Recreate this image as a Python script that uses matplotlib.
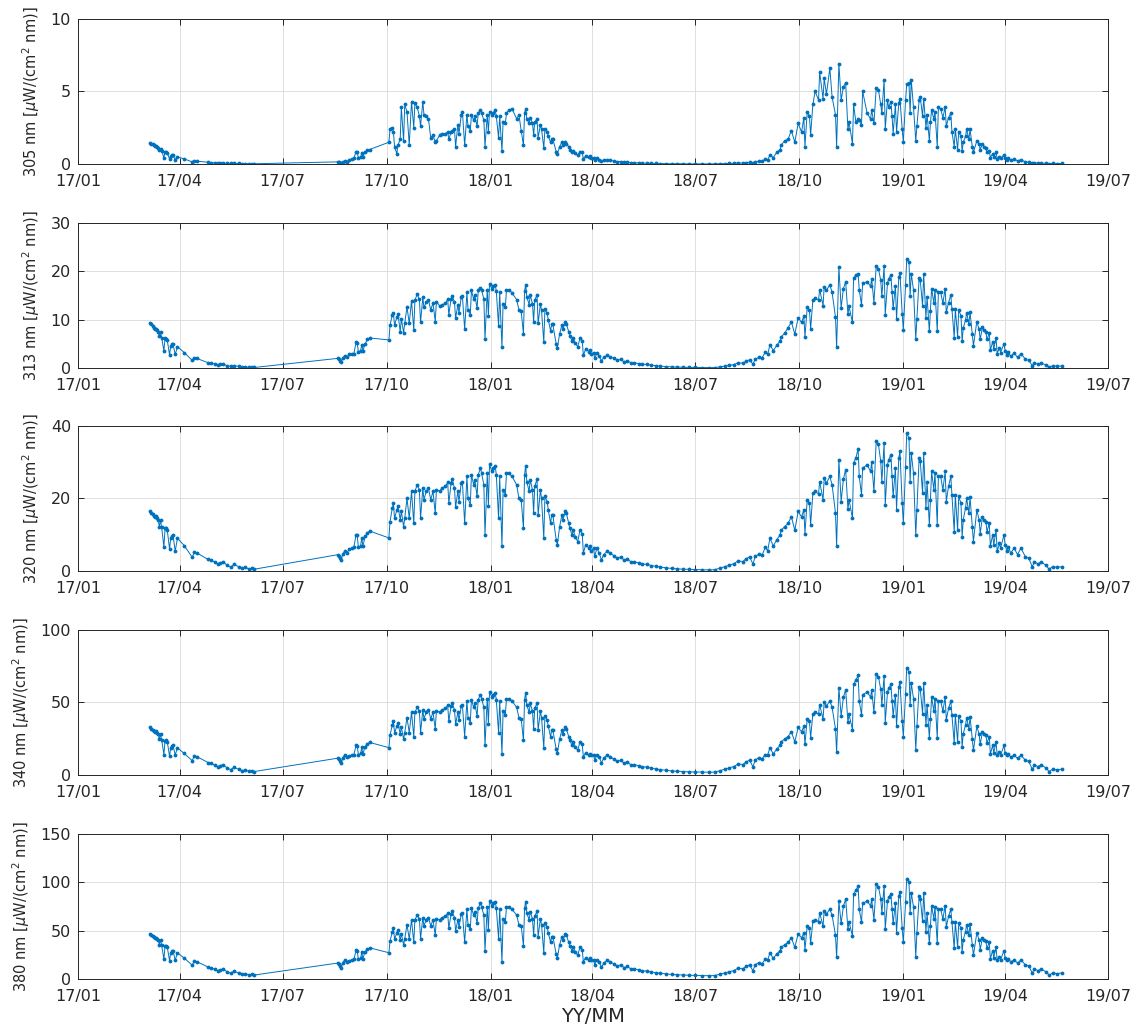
import numpy as np
import pandas as pd
import matplotlib
matplotlib.use('Agg')
import matplotlib.pyplot as plt
import matplotlib.dates as mdates

# sample day, counted from 2017-01-01
days = [
    64, 65, 66, 67, 68, 69, 70, 71, 72, 73,
    74, 76, 77, 78, 79, 81, 82, 83, 84, 86,
    88, 94, 101, 103, 105, 115, 118, 121, 124, 126,
    128, 132, 135, 138, 142, 145, 148, 151, 154, 156,
    230, 231, 232, 233, 234, 236, 238, 240, 242, 244,
    246, 247, 248, 250, 251, 252, 254, 256, 258, 275,
    276, 278, 279, 280, 282, 283, 285, 286, 288, 289,
    291, 293, 295, 297, 298, 300, 302, 303, 305, 306,
    308, 310, 312, 314, 316, 317, 320, 322, 325, 327,
    328, 330, 331, 333, 334, 336, 337, 339, 340, 342,
    344, 345, 347, 348, 350, 351, 353, 354, 356, 357,
    359, 360, 362, 363, 364, 366, 367, 369, 370, 372,
    373, 375, 376, 378, 379, 381, 384, 388, 390, 392,
    394, 395, 396, 397, 399, 400, 402, 403, 404, 406,
    407, 409, 410, 412, 413, 415, 416, 418, 419, 420,
    423, 424, 426, 428, 429, 431, 432, 434, 435, 437,
    438, 440, 442, 444, 446, 447, 449, 452, 453, 454,
    456, 457, 459, 461, 463, 465, 468, 471, 474, 477,
    480, 483, 486, 489, 492, 496, 499, 503, 507, 511,
    515, 520, 525, 530, 535, 540, 546, 552, 558, 563,
    568, 572, 576, 580, 584, 588, 591, 594, 597, 599,
    602, 605, 608, 610, 612, 615, 618, 621, 622, 625,
    628, 631, 634, 637, 640, 642, 643, 645, 647, 648,
    650, 652, 655, 656, 659, 660, 662, 665, 667, 670,
    671, 673, 675, 677, 679, 681, 682, 685, 686, 688,
    690, 691, 693, 694, 698, 701, 702, 704, 706, 708,
    710, 711, 713, 714, 716, 717, 719, 720, 721, 723,
    724, 726, 727, 729, 730, 732, 733, 735, 736, 737,
    739, 741, 742, 744, 745, 747, 748, 750, 751, 753,
    754, 755, 757, 758, 760, 761, 763, 765, 767, 768,
    770, 772, 773, 775, 776, 778, 779, 781, 782, 783,
    785, 786, 788, 789, 791, 792, 795, 797, 798, 800,
    801, 803, 804, 806, 807, 809, 810, 812, 813, 815,
    816, 819, 820, 822, 823, 825, 828, 831, 834, 838,
    841, 844, 846, 849, 852, 856, 859, 862, 866, 870,
]

uv305 = [
    1.45, 1.4, 1.35, 1.3, 1.25, 1.25, 1.2, 1.1, 0.95, 1.05,
    0.9, 0.45, 0.85, 0.8, 0.75, 0.35, 0.55, 0.6, 0.6, 0.3,
    0.5, 0.35, 0.15, 0.2, 0.2, 0.12, 0.1, 0.08, 0.07, 0.07,
    0.07, 0.05, 0.04, 0.05, 0.04, 0.03, 0.03, 0.02, 0.02, 0.02,
    0.15, 0.13, 0.1, 0.08, 0.15, 0.2, 0.17, 0.3, 0.35, 0.4,
    0.85, 0.8, 0.45, 0.5, 0.75, 0.5, 0.85, 0.95, 1.0, 1.5,
    2.4, 2.5, 2.2, 1.2, 0.7, 1.3, 1.7, 3.9, 1.6, 4.1,
    3.6, 1.3, 4.3, 2.5, 4.2, 3.9, 3.3, 2.6, 4.3, 3.4,
    3.3, 3.1, 1.8, 2.0, 1.5, 1.6, 2.0, 2.1, 2.1, 2.2,
    1.7, 2.2, 2.3, 2.4, 1.2, 2.7, 2.1, 3.4, 3.6, 1.3,
    3.4, 2.6, 2.3, 3.4, 3.0, 3.3, 2.6, 3.5, 3.7, 3.5,
    3.0, 1.2, 3.4, 2.2, 3.6, 3.4, 3.5, 3.7, 3.3, 1.8,
    3.3, 0.9, 2.9, 2.8, 3.5, 3.7, 3.8, 3.1, 3.4, 2.3,
    1.3, 3.5, 3.8, 3.1, 2.8, 3.2, 2.8, 2.0, 2.9, 3.1,
    1.8, 2.7, 2.4, 1.1, 2.4, 2.2, 1.9, 1.5, 1.7, 1.7,
    0.85, 0.7, 1.2, 1.5, 1.3, 1.5, 1.4, 1.2, 1.0, 0.85,
    0.9, 0.75, 0.6, 0.85, 0.8, 0.35, 0.55, 0.5, 0.55, 0.4,
    0.45, 0.25, 0.4, 0.3, 0.18, 0.25, 0.3, 0.25, 0.2, 0.17,
    0.17, 0.12, 0.14, 0.1, 0.1, 0.08, 0.06, 0.06, 0.05, 0.04,
    0.03, 0.03, 0.02, 0.02, 0.02, 0.01, 0.01, 0.01, 0.01, 0.01,
    0.02, 0.03, 0.04, 0.05, 0.08, 0.07, 0.1, 0.13, 0.05, 0.15,
    0.2, 0.18, 0.35, 0.3, 0.6, 0.45, 0.8, 1.0, 1.3, 1.6,
    1.7, 2.3, 1.5, 2.8, 2.2, 3.2, 1.2, 3.6, 3.3, 2.0,
    4.1, 5.0, 4.4, 6.3, 4.5, 5.9, 4.8, 6.6, 4.6, 3.4,
    1.2, 6.9, 4.4, 5.3, 5.6, 2.4, 2.9, 1.4, 4.1, 2.9,
    3.1, 3.0, 2.7, 5.0, 3.5, 3.1, 3.7, 2.8, 5.2, 5.1,
    4.1, 3.5, 5.8, 2.4, 4.4, 3.9, 4.3, 3.3, 2.1, 4.1,
    2.2, 4.2, 4.5, 2.4, 1.5, 4.4, 5.5, 5.6, 3.5, 5.8,
    3.9, 1.6, 2.6, 4.4, 4.6, 3.3, 4.5, 2.5, 3.4, 1.6,
    2.9, 3.7, 3.1, 3.6, 1.2, 3.9, 3.8, 3.2, 3.9, 2.6,
    3.2, 3.5, 2.2, 1.2, 2.4, 1.0, 2.2, 1.9, 0.9, 1.5,
    1.9, 2.4, 1.7, 2.4, 1.2, 0.8, 1.6, 1.4, 1.0, 1.4,
    1.2, 1.1, 0.8, 0.9, 0.45, 0.7, 0.5, 0.8, 0.35, 0.5,
    0.4, 0.6, 0.45, 0.3, 0.4, 0.25, 0.35, 0.22, 0.3, 0.15,
    0.13, 0.04, 0.09, 0.07, 0.08, 0.05, 0.02, 0.04, 0.03, 0.04,
]

uv313 = [
    9.2, 9.0, 8.6, 8.3, 8.0, 8.1, 7.8, 7.5, 6.6, 7.4,
    6.3, 3.5, 6.2, 6.0, 5.7, 2.7, 4.5, 4.9, 5.0, 2.8,
    4.4, 3.2, 1.6, 2.1, 2.0, 1.1, 1.0, 0.85, 0.7, 0.75,
    0.8, 0.5, 0.35, 0.5, 0.35, 0.22, 0.25, 0.15, 0.15, 0.12,
    2.0, 1.9, 1.5, 1.3, 2.1, 2.5, 2.3, 2.8, 2.9, 3.0,
    5.3, 5.1, 3.4, 3.6, 4.8, 3.5, 5.0, 5.9, 6.2, 5.8,
    8.8, 11.0, 11.3, 8.8, 10.5, 11.2, 7.5, 10.2, 7.3, 9.2,
    12.6, 9.2, 13.9, 7.8, 14.0, 15.2, 14.2, 9.4, 14.6, 12.5,
    13.6, 14.1, 12.0, 13.4, 9.6, 13.7, 12.8, 13.0, 13.4, 14.2,
    11.0, 14.3, 14.8, 13.6, 10.3, 13.0, 11.4, 14.6, 14.9, 8.0,
    15.6, 12.0, 11.0, 16.0, 14.2, 15.1, 12.3, 16.0, 16.6, 16.1,
    14.2, 6.0, 16.2, 10.7, 17.4, 16.4, 17.0, 17.2, 15.9, 8.7,
    15.6, 4.3, 13.3, 12.6, 16.1, 16.2, 15.5, 14.1, 12.0, 11.7,
    7.1, 15.9, 17.2, 14.7, 13.1, 15.0, 13.3, 9.5, 14.0, 15.1,
    9.2, 13.2, 11.9, 5.3, 12.1, 11.3, 9.9, 7.7, 9.0, 9.0,
    4.9, 4.2, 7.0, 8.9, 8.1, 9.4, 9.1, 7.5, 6.7, 5.6,
    6.2, 5.1, 4.4, 6.1, 5.6, 2.6, 3.9, 3.4, 3.7, 2.9,
    3.2, 2.0, 3.1, 2.4, 1.5, 2.2, 2.6, 2.3, 2.0, 1.6,
    1.8, 1.3, 1.5, 1.1, 1.1, 0.9, 0.75, 0.75, 0.6, 0.5,
    0.4, 0.3, 0.25, 0.2, 0.16, 0.14, 0.12, 0.1, 0.09, 0.1,
    0.25, 0.4, 0.55, 0.7, 1.1, 1.0, 1.4, 1.7, 0.8, 1.8,
    2.2, 2.1, 3.3, 2.8, 4.8, 3.6, 4.7, 5.6, 6.4, 7.2,
    8.3, 9.5, 7.0, 10.4, 9.4, 10.7, 6.5, 12.5, 11.9, 8.0,
    14.1, 14.4, 14.0, 16.2, 12.9, 16.8, 16.0, 17.2, 15.6, 10.5,
    4.3, 20.9, 12.4, 16.4, 17.8, 11.1, 12.7, 9.4, 18.5, 19.2,
    19.5, 16.2, 13.0, 17.5, 17.8, 16.9, 18.4, 13.5, 21.0, 20.5,
    18.1, 14.8, 21.0, 11.0, 17.5, 18.4, 19.2, 15.6, 12.3, 17.0,
    10.1, 18.7, 19.7, 11.2, 7.9, 17.2, 22.5, 21.8, 14.8, 19.5,
    16.1, 6.0, 10.1, 18.6, 18.1, 12.8, 19.4, 10.4, 14.7, 7.6,
    11.8, 16.4, 13.4, 16.1, 7.6, 15.6, 15.6, 13.4, 16.4, 11.5,
    13.5, 15.1, 12.2, 6.3, 12.2, 6.5, 11.9, 10.8, 5.5, 8.2,
    9.9, 11.4, 9.1, 11.6, 7.0, 4.6, 9.6, 8.0, 5.9, 8.5,
    7.8, 7.5, 5.9, 7.2, 3.7, 5.4, 4.0, 6.2, 3.0, 4.2,
    3.2, 5.0, 3.6, 2.7, 3.3, 2.4, 3.1, 2.2, 3.0, 1.8,
    1.6, 0.5, 1.1, 0.85, 1.0, 0.65, 0.2, 0.45, 0.38, 0.42,
]

uv320 = [
    16.4, 16.0, 15.6, 15.2, 14.8, 15.0, 14.5, 14.0, 12.2, 14.0,
    12.0, 6.6, 11.7, 11.8, 11.2, 6.0, 9.0, 9.7, 9.9, 5.5,
    9.0, 7.0, 3.8, 5.2, 5.0, 3.2, 3.0, 2.4, 2.0, 2.3,
    2.5, 1.6, 1.1, 1.8, 1.2, 0.8, 1.0, 0.6, 0.7, 0.5,
    4.5, 4.2, 3.5, 3.0, 4.6, 5.5, 5.0, 6.0, 6.3, 6.5,
    10.0, 9.8, 6.5, 7.0, 9.2, 6.8, 9.5, 10.5, 11.0, 9.1,
    13.6, 17.3, 18.6, 14.5, 16.8, 17.9, 14.1, 16.4, 12.2, 14.5,
    20.0, 14.5, 21.9, 13.1, 21.9, 23.7, 22.3, 14.5, 22.8, 19.6,
    21.9, 22.8, 19.6, 21.9, 15.9, 22.3, 22.0, 22.8, 23.3, 24.4,
    18.6, 24.2, 25.3, 22.8, 17.6, 21.9, 19.1, 24.2, 24.6, 13.1,
    26.0, 20.0, 18.2, 26.5, 23.7, 25.1, 20.5, 26.5, 28.3, 26.9,
    23.7, 9.9, 26.9, 17.8, 29.3, 27.4, 28.3, 29.0, 26.5, 14.5,
    26.0, 6.9, 22.3, 21.0, 26.9, 26.9, 26.0, 23.7, 20.0, 19.6,
    11.8, 26.5, 29.0, 24.6, 21.9, 25.1, 22.3, 15.9, 23.3, 25.3,
    15.4, 22.3, 20.0, 9.0, 20.5, 19.1, 16.8, 13.1, 15.4, 15.4,
    8.5, 7.2, 12.2, 15.4, 14.1, 16.4, 15.9, 13.1, 11.8, 9.9,
    11.2, 9.4, 8.1, 11.2, 10.3, 4.9, 7.2, 6.3, 6.9, 5.4,
    6.3, 4.0, 6.3, 4.9, 3.1, 4.5, 5.4, 4.9, 4.2, 3.5,
    3.9, 3.0, 3.4, 2.5, 2.6, 2.2, 1.8, 1.9, 1.5, 1.3,
    1.1, 0.9, 0.7, 0.6, 0.5, 0.45, 0.4, 0.35, 0.3, 0.35,
    0.8, 1.2, 1.6, 2.0, 2.8, 2.6, 3.4, 3.9, 1.9, 4.0,
    4.6, 4.3, 6.6, 5.5, 9.0, 6.9, 8.6, 9.9, 11.2, 12.2,
    13.1, 14.9, 11.2, 16.4, 14.9, 16.8, 10.3, 19.6, 18.6, 12.7,
    21.4, 21.9, 21.2, 24.6, 19.6, 25.5, 24.2, 26.0, 23.7, 15.9,
    6.9, 30.6, 19.1, 25.3, 27.9, 17.0, 19.6, 14.5, 29.7, 31.1,
    33.6, 26.0, 21.0, 28.3, 29.2, 27.4, 29.9, 21.9, 35.7, 34.8,
    30.2, 24.6, 35.2, 18.2, 29.2, 30.6, 32.0, 26.0, 20.5, 28.3,
    16.8, 31.1, 32.9, 18.6, 13.1, 28.7, 37.9, 36.6, 24.6, 32.5,
    26.9, 9.9, 16.8, 31.1, 30.2, 21.4, 32.5, 17.3, 24.6, 12.7,
    19.6, 27.4, 22.3, 26.9, 12.7, 26.0, 26.0, 22.3, 27.4, 19.1,
    23.3, 26.0, 21.0, 10.8, 21.0, 11.2, 20.5, 18.6, 9.4, 14.1,
    17.3, 20.0, 15.9, 20.3, 12.2, 8.1, 16.8, 14.1, 10.3, 14.9,
    14.1, 13.6, 10.8, 13.1, 6.8, 9.9, 7.2, 11.2, 5.4, 7.6,
    6.3, 9.9, 7.2, 5.4, 6.7, 4.9, 6.3, 4.5, 6.3, 3.9,
    3.5, 1.2, 2.5, 2.0, 2.5, 1.6, 0.5, 1.2, 1.0, 1.2,
]

uv340 = [
    32.7, 31.9, 31.1, 30.4, 29.6, 30.0, 29.1, 28.1, 24.7, 28.1,
    24.3, 14.0, 23.7, 23.9, 22.8, 12.9, 18.6, 19.9, 20.3, 13.9,
    18.6, 14.8, 9.9, 13.2, 12.7, 8.6, 8.1, 6.7, 5.8, 6.5,
    7.0, 4.9, 3.7, 5.3, 4.0, 3.0, 3.5, 2.6, 2.8, 2.4,
    11.6, 10.9, 9.3, 8.1, 11.8, 13.9, 12.7, 12.9, 13.5, 13.9,
    20.5, 20.1, 13.9, 14.8, 19.0, 14.4, 19.6, 21.5, 22.4, 18.8,
    27.3, 34.4, 36.8, 29.1, 33.4, 35.5, 28.3, 32.7, 24.7, 29.1,
    39.5, 29.1, 43.1, 26.4, 43.1, 46.5, 43.9, 29.1, 44.8, 38.7,
    43.1, 44.8, 38.7, 43.1, 31.7, 43.9, 43.3, 44.8, 45.8, 47.9,
    36.8, 47.5, 49.6, 44.8, 34.9, 43.1, 37.8, 47.5, 48.2, 26.4,
    50.9, 39.5, 36.1, 51.9, 46.5, 49.2, 40.5, 51.9, 55.3, 52.6,
    46.5, 20.3, 52.6, 35.3, 57.2, 53.6, 55.3, 56.6, 51.9, 29.1,
    50.9, 14.6, 43.9, 41.4, 52.6, 52.6, 50.9, 46.5, 39.5, 38.7,
    23.9, 51.9, 56.6, 48.2, 43.1, 49.2, 43.9, 31.7, 45.8, 49.6,
    30.8, 43.9, 39.5, 18.6, 40.5, 37.8, 33.4, 26.4, 30.8, 30.8,
    17.7, 15.2, 24.7, 30.8, 28.3, 32.7, 31.7, 26.4, 23.9, 20.3,
    22.8, 19.4, 16.9, 22.8, 21.1, 12.5, 15.2, 13.5, 14.6, 13.6,
    13.5, 10.4, 13.5, 12.5, 8.3, 11.6, 13.6, 12.5, 10.9, 9.3,
    10.2, 8.1, 9.0, 7.0, 7.2, 6.3, 5.3, 5.6, 4.7, 4.2,
    3.7, 3.3, 2.8, 2.6, 2.4, 2.2, 2.1, 2.0, 1.9, 2.0,
    3.0, 4.0, 4.9, 5.8, 7.6, 7.2, 9.0, 10.2, 5.6, 10.4,
    11.8, 11.1, 14.0, 13.9, 18.6, 14.6, 17.8, 20.3, 22.8, 24.7,
    26.4, 29.8, 22.8, 32.7, 29.8, 33.4, 21.1, 38.7, 36.8, 25.6,
    42.2, 43.1, 41.8, 48.2, 38.7, 49.9, 47.5, 50.9, 46.5, 31.7,
    15.6, 60.0, 40.7, 53.4, 58.7, 36.4, 41.7, 31.2, 62.4, 65.3,
    68.5, 50.9, 41.4, 55.3, 57.0, 53.6, 58.3, 43.1, 69.3, 67.6,
    58.9, 48.2, 68.4, 36.1, 57.0, 59.6, 62.3, 50.9, 40.5, 55.3,
    33.4, 60.6, 64.0, 36.8, 26.4, 56.0, 73.5, 71.0, 48.2, 63.3,
    52.6, 17.5, 33.4, 60.6, 58.9, 42.2, 63.3, 34.4, 48.2, 25.6,
    38.7, 53.6, 43.9, 52.6, 25.6, 50.9, 50.9, 43.9, 53.6, 37.8,
    45.8, 50.9, 41.4, 22.0, 41.4, 22.8, 40.5, 36.8, 19.4, 28.3,
    34.4, 39.5, 31.7, 40.1, 24.7, 16.9, 33.4, 28.3, 21.1, 29.8,
    28.3, 27.3, 22.0, 26.4, 14.4, 20.3, 15.2, 22.8, 13.6, 15.9,
    13.5, 20.3, 15.2, 13.6, 14.2, 12.5, 13.5, 11.6, 13.5, 10.2,
    9.3, 4.0, 7.0, 5.8, 7.0, 4.9, 2.4, 4.0, 3.5, 4.0,
]

uv380 = [
    46.5, 45.4, 44.3, 43.3, 42.2, 42.8, 41.4, 40.1, 35.3, 40.1,
    34.8, 20.5, 34.0, 34.3, 32.7, 18.9, 26.9, 28.7, 29.2, 19.6,
    26.9, 21.6, 14.3, 18.6, 18.0, 12.4, 11.8, 9.9, 8.7, 9.6,
    10.3, 7.5, 5.9, 8.1, 6.2, 5.0, 5.6, 4.4, 4.7, 4.1,
    16.5, 15.5, 13.4, 11.8, 16.8, 19.6, 18.0, 18.9, 19.7, 20.2,
    29.5, 29.0, 20.2, 21.6, 27.4, 21.0, 28.2, 30.8, 32.2, 27.1,
    39.0, 48.8, 52.3, 41.4, 47.5, 50.4, 40.4, 46.5, 35.3, 41.4,
    56.0, 41.4, 61.0, 37.7, 61.0, 65.8, 62.1, 41.4, 63.4, 54.9,
    61.0, 63.4, 54.9, 61.0, 45.1, 62.1, 61.3, 63.4, 64.7, 67.7,
    52.3, 67.1, 70.0, 63.4, 49.6, 61.0, 53.6, 67.1, 68.2, 37.7,
    71.9, 56.0, 51.2, 73.2, 65.8, 69.5, 57.3, 73.2, 78.0, 74.3,
    65.8, 29.2, 74.3, 50.2, 80.6, 75.6, 78.0, 79.9, 73.2, 41.4,
    71.9, 17.5, 62.1, 58.7, 74.3, 74.3, 71.9, 65.8, 56.0, 54.9,
    34.3, 73.2, 79.9, 68.2, 61.0, 69.5, 62.1, 45.1, 64.7, 70.0,
    43.8, 62.1, 56.0, 26.9, 57.3, 53.6, 47.5, 37.7, 43.8, 43.8,
    25.5, 22.1, 35.3, 43.8, 40.4, 46.5, 45.1, 37.7, 34.3, 29.2,
    32.7, 27.9, 24.5, 32.7, 30.3, 17.7, 22.1, 19.7, 21.3, 19.2,
    19.7, 14.9, 19.7, 17.7, 12.1, 16.5, 19.2, 17.7, 15.5, 13.4,
    14.6, 11.8, 13.0, 10.3, 10.6, 9.3, 8.1, 8.4, 7.2, 6.5,
    5.9, 5.3, 4.7, 4.4, 4.1, 3.9, 3.7, 3.6, 3.4, 3.6,
    5.0, 6.2, 7.5, 8.7, 11.2, 10.6, 13.0, 14.6, 8.4, 14.9,
    16.8, 15.8, 20.5, 19.6, 26.9, 21.3, 25.8, 29.2, 32.7, 35.3,
    37.7, 42.5, 32.7, 46.5, 42.5, 47.5, 30.3, 54.9, 52.3, 36.7,
    59.7, 61.0, 59.2, 68.2, 54.9, 70.6, 67.1, 71.9, 65.8, 45.1,
    22.7, 80.0, 57.4, 75.1, 82.5, 51.5, 58.9, 44.3, 87.6, 91.6,
    95.5, 71.9, 58.7, 78.0, 80.4, 75.6, 82.2, 61.0, 97.6, 95.2,
    83.0, 68.2, 96.3, 51.2, 80.4, 84.1, 87.8, 71.9, 57.3, 78.0,
    47.5, 85.4, 90.2, 52.3, 37.7, 79.1, 103.4, 100.0, 68.2, 89.1,
    74.3, 23.0, 47.5, 85.4, 83.0, 59.7, 89.1, 48.8, 68.2, 36.7,
    54.9, 75.6, 62.1, 74.3, 36.7, 71.9, 71.9, 62.1, 75.6, 53.6,
    64.7, 71.9, 58.7, 31.6, 58.7, 32.7, 57.3, 52.3, 27.9, 40.4,
    48.8, 56.0, 45.1, 56.8, 35.3, 24.5, 47.5, 40.4, 30.3, 42.5,
    40.4, 39.0, 31.6, 37.7, 21.0, 29.2, 22.1, 32.7, 19.2, 23.1,
    19.7, 29.2, 22.1, 19.2, 20.8, 17.7, 19.7, 16.5, 19.7, 14.6,
    13.4, 6.2, 10.3, 8.7, 10.3, 7.5, 4.1, 6.2, 5.6, 6.2,
]

wavelengths = ["305", "313", "320", "340", "380"]
y_max = [10, 30, 40, 100, 150]
y_step = [5, 10, 20, 50, 50]

TEXT = "#262626"
BLUE = "#0072BD"

dates = pd.Timestamp("2017-01-01") + pd.to_timedelta(days, unit="D")
series = [uv305, uv313, uv320, uv340, uv380]

fig = plt.figure(figsize=(11.4, 10.35), dpi=100)
bottoms = [0.8415, 0.6444, 0.4483, 0.2512, 0.0541]

for i, (wl, vals) in enumerate(zip(wavelengths, series)):
    ax = fig.add_axes([0.0684, bottoms[i], 0.9035, 0.1405])
    ax.plot(dates, vals, color=BLUE, linewidth=0.7, marker=".", markersize=3.5)
    ax.set_xlim(pd.Timestamp("2017-01-01"), pd.Timestamp("2019-07-01"))
    ax.set_ylim(0, y_max[i])
    ax.set_yticks(np.arange(0, y_max[i] + 1, y_step[i]))
    ax.xaxis.set_major_locator(mdates.MonthLocator(bymonth=[1, 4, 7, 10]))
    ax.xaxis.set_major_formatter(mdates.DateFormatter("%y/%m"))
    ax.grid(True, color="#dedede", linewidth=0.7)
    ax.set_axisbelow(True)
    ax.tick_params(direction="in", top=True, right=True, length=4,
                   labelsize=11.5, colors=TEXT, width=0.7)
    ax.tick_params(axis="x", pad=7)
    ax.tick_params(axis="y", pad=5)
    for sp in ax.spines.values():
        sp.set_color(TEXT)
        sp.set_linewidth(0.7)
    ax.set_ylabel(wl + r" nm [$\mu$W/(cm$^2$ nm)]", fontsize=10.5, color=TEXT,
                  labelpad=6)

ax.set_xlabel("YY/MM", fontsize=14, color=TEXT, labelpad=2)

fig.savefig("out.png", dpi=100)
